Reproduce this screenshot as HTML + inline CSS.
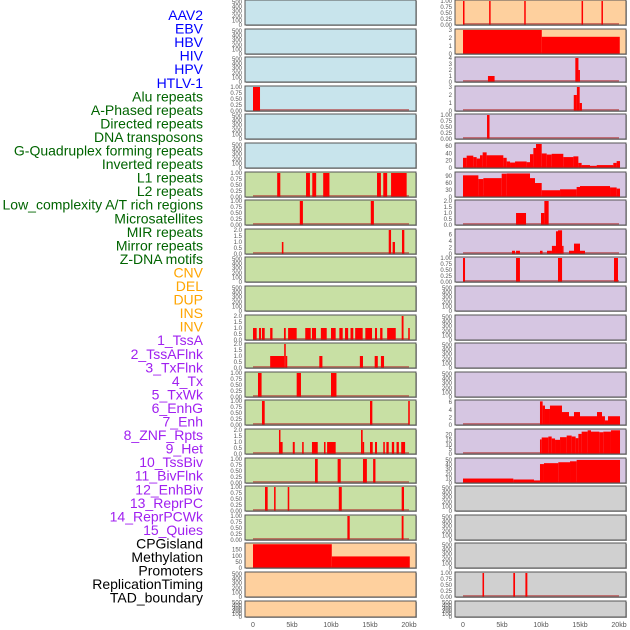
<!DOCTYPE html>
<html><head><meta charset="utf-8">
<style>
html,body{margin:0;padding:0;background:#fff;}
body{width:630px;height:630px;overflow:hidden;position:relative;font-family:"Liberation Sans",sans-serif;}
svg{position:absolute;left:0;top:0;}
</style></head>
<body>
<svg id="chart" width="630" height="630" viewBox="0 0 630 630"></svg>
<script>
// ---- labels ----
const trackLabels = ["AAV2","EBV","HBV","HIV","HPV","HTLV-1","Alu repeats","A-Phased repeats","Directed repeats","DNA transposons","G-Quadruplex forming repeats","Inverted repeats","L1 repeats","L2 repeats","Low_complexity A/T rich regions","Microsatellites","MIR repeats","Mirror repeats","Z-DNA motifs","CNV","DEL","DUP","INS","INV","1_TssA","2_TssAFlnk","3_TxFlnk","4_Tx","5_TxWk","6_EnhG","7_Enh","8_ZNF_Rpts","9_Het","10_TssBiv","11_BivFlnk","12_EnhBiv","13_ReprPC","14_ReprPCWk","15_Quies","CPGisland","Methylation","Promoters","ReplicationTiming","TAD_boundary"];
const labelColors = ["#0000ff","#0000ff","#0000ff","#0000ff","#0000ff","#0000ff","#006400","#006400","#006400","#006400","#006400","#006400","#006400","#006400","#006400","#006400","#006400","#006400","#006400","#ffa500","#ffa500","#ffa500","#ffa500","#ffa500","#a020f0","#a020f0","#a020f0","#a020f0","#a020f0","#a020f0","#a020f0","#a020f0","#a020f0","#a020f0","#a020f0","#a020f0","#a020f0","#a020f0","#a020f0","#000","#000","#000","#000","#000"];
const xTickLabels = ["0","5kb","10kb","15kb","20kb"];
const xTickValues = [0,5,10,15,20];

// ---- data: segments [startKb, endKb, value] ----
const L_ALU = [[0,0.9,1]];
const L_L1 = [[3.1,3.5,1],[6.8,7.3,1],[7.6,8.1,1],[9.0,9.8,1],[15.9,16.4,1],[16.7,17.2,1],[17.7,19.7,1]];
const L_L2 = [[6.0,6.4,1],[15.1,15.5,1]];
const L_LOWC = [[3.7,3.9,1],[17.4,17.7,2],[17.9,18.2,1],[19.1,19.4,2]];
const L_INS = [[0,0.47,1],[0.77,1.03,1],[1.15,1.5,1],[2.2,2.5,1],[3.97,4.2,1],[4.5,5.6,1],[6.7,7.4,1],[7.56,8.08,1],[8.7,9.45,1],[10.0,10.6,1],[11.07,11.5,1],[11.8,12.2,1],[12.5,12.86,1],[13.1,14.06,1],[14.4,15.26,1],[15.64,15.9,1],[16.3,16.6,1],[17.2,18.3,1],[19.06,19.3,2],[19.9,20.1,1]];
const L_TSSA = [[2.2,4.0,1],[4.0,4.2,2],[4.2,4.3,1],[8.5,8.9,1],[13.7,14.1,1],[15.6,16.0,1],[16.4,16.8,1]];
const L_TSSAFLNK = [[0.64,1.1,1],[5.6,6.15,1],[10.0,10.7,1]];
const L_TXFLNK = [[1.15,1.5,1],[15.0,15.3,1],[19.9,20.1,1]];
const L_TX = [[3.33,3.5,2],[3.5,3.8,1],[5.1,5.35,1],[6.3,6.5,1],[7.56,8.3,1],[9.1,9.3,1],[9.5,10.6,1],[13.85,14.06,2],[14.06,14.2,1],[15.0,15.35,1],[15.64,15.9,1],[16.7,16.9,1],[17.1,17.4,1],[17.8,18.1,1],[18.4,18.7,1],[19.0,19.5,1]];
const L_TXWK = [[7.95,8.3,1],[10.85,11.25,1],[14.1,14.6,1],[15.4,15.7,1]];
const L_ENHG = [[1.54,1.88,1],[2.7,2.9,1],[4.45,4.65,1],[11.0,11.38,1],[19.06,19.36,1]];
const L_ENH = [[12.1,12.4,1],[19.06,19.3,1]];
const L_CPG = [[0,10.1,195],[10.1,20.1,95]];
const R_AAV2 = [[0,0.18,1],[3.35,3.5,1],[7.85,8.0,1],[15.2,15.35,1],[17.75,17.9,1]];
const R_EBV = [[0,10.1,3],[10.1,20.1,2.15]];
const R_HBV = [[3.2,4.05,1],[14.4,14.8,4],[14.8,14.9,2]];
const R_HIV = [[14.2,14.6,2],[14.6,14.96,3],[14.96,15.25,1]];
const R_HPV = [[3.08,3.4,1]];
const R_GQUAD = [[0,0.47,28],[0.47,1.32,34],[1.32,1.75,30],[1.75,2.18,26],[2.18,2.52,35],[2.52,3.03,43],[3.03,5.17,35],[5.17,5.6,28],[5.6,6.03,18],[6.03,6.67,15],[6.67,8.16,18],[8.16,8.59,16],[8.59,9.02,38],[9.02,9.36,55],[9.36,10.09,66],[10.09,10.73,40],[10.73,11.37,37],[11.37,12.86,39],[12.86,14.15,30],[14.15,14.79,32],[14.79,15.21,14],[15.21,16.28,8],[16.28,17.14,6],[17.14,19.27,8],[19.27,19.7,14],[19.7,20.13,19]];
const R_INVREP = [[0,1.97,93],[1.97,2.61,77],[2.61,4.96,81],[4.96,5.6,100],[5.6,8.59,101],[8.59,9.23,81],[9.23,10.09,60],[10.09,12.44,29],[12.44,14.57,33],[14.57,15.0,43],[15.0,18.85,47],[18.85,19.7,41],[19.7,20.13,36]];
const R_L1 = [[6.8,8.08,1],[10.0,10.43,1],[10.43,10.98,2]];
const R_L2 = [[6.28,6.67,1],[6.8,7.3,1],[9.87,10.2,1],[10.77,11.4,1],[11.4,11.92,2.5],[11.92,12.18,7],[12.18,12.7,7.3],[12.7,12.86,2.5],[13.59,14.23,1],[14.23,15.0,3.2],[15.0,15.64,1]];
const R_LOWC = [[0,0.26,1],[6.8,7.3,1],[12.18,12.7,1],[19.36,19.87,1]];
const R_TXWK = [[9.87,10.21,6.2],[10.21,10.51,5.1],[10.51,11.15,4.2],[11.15,12.69,5.1],[12.69,13.59,3.4],[13.59,14.23,2.3],[14.23,15.0,3.4],[15.0,17.18,2.3],[17.18,17.82,3.4],[17.82,18.2,2.3],[18.2,18.59,1.2],[18.59,20.13,2.3]];
const R_ENHG = [[9.87,10.09,15],[10.09,10.94,17],[10.94,11.37,18],[11.37,11.8,16],[11.8,12.44,14.6],[12.44,13.29,17.3],[13.29,13.93,19],[13.93,14.44,18],[14.44,14.79,16.3],[14.79,15.21,20.7],[15.21,15.98,23],[15.98,16.41,24.4],[16.41,17.48,23],[17.48,17.99,22.4],[17.99,18.97,23],[18.97,20.13,24.4]];
const R_ENH = [[0,6.45,9.7],[6.45,9.1,7.6],[9.1,9.87,5.6],[9.87,10.38,41],[10.38,12.22,43],[12.22,13.72,45],[13.72,14.57,47],[14.57,20.13,50]];
const R_PROM = [[2.5,2.7,1],[6.45,6.67,1],[8.0,8.25,1]];

// ---- panel layout (col, row, bg, ymax, ticks, data) ----
const BLUE="#c8e4ec", GREEN="#c8e0a4", ORANGE="#fed09e", PURPLE="#d6c6e2", GRAY="#d0d0d0";
const T500=["0","100","200","300","400","500"], T1=["0.00","0.25","0.50","0.75","1.00"], T2=["0.0","0.5","1.0","1.5","2.0"];
const panels = [
 // left
 ["L",0,BLUE,520,T500,null,"aav2-left"],["L",1,BLUE,520,T500,null,"ebv-left"],["L",2,BLUE,520,T500,null,"hbv-left"],
 ["L",3,BLUE,1,T1,L_ALU,"alu-repeats-panel"],["L",4,BLUE,520,T500,null,"empty-panel-l4"],["L",5,BLUE,520,T500,null,"empty-panel-l5"],
 ["L",6,GREEN,1,T1,L_L1,"l1-repeats-panel"],["L",7,GREEN,1,T1,L_L2,"l2-repeats-panel"],["L",8,GREEN,2,T2,L_LOWC,"low-complexity-panel"],
 ["L",9,GREEN,520,T500,null,"empty-panel-l9"],["L",10,GREEN,520,T500,null,"empty-panel-l10"],["L",11,GREEN,2,T2,L_INS,"ins-panel"],
 ["L",12,GREEN,2,T2,L_TSSA,"tssa-panel"],["L",13,GREEN,1,T1,L_TSSAFLNK,"tssaflnk-panel"],["L",14,GREEN,1,T1,L_TXFLNK,"txflnk-panel"],
 ["L",15,GREEN,2,T2,L_TX,"tx-panel"],["L",16,GREEN,1,T1,L_TXWK,"txwk-panel"],["L",17,GREEN,1,T1,L_ENHG,"enhg-panel"],
 ["L",18,GREEN,1,T1,L_ENH,"enh-panel"],["L",19,ORANGE,197,["0","50","100","150"],L_CPG,"cpgisland-panel"],
 ["L",20,ORANGE,520,T500,null,"promoters-left-panel"],["L",21,ORANGE,520,T500,null,"tad-left-panel"],
 // right
 ["R",0,ORANGE,1,T1,R_AAV2,"aav2-right-panel"],["R",1,ORANGE,3,["0","1","2","3"],R_EBV,"ebv-right-panel"],
 ["R",2,PURPLE,4,["0","1","2","3","4"],R_HBV,"hbv-right-panel"],["R",3,PURPLE,3,["0","1","2","3"],R_HIV,"hiv-right-panel"],
 ["R",4,PURPLE,1,T1,R_HPV,"hpv-right-panel"],["R",5,PURPLE,66,["0","20","40","60"],R_GQUAD,"gquad-right-panel"],
 ["R",6,PURPLE,103,["0","30","60","90"],R_INVREP,"inverted-right-panel"],["R",7,PURPLE,2,T2,R_L1,"l1-right-panel"],
 ["R",8,PURPLE,7.4,["0","2","4","6"],R_L2,"l2-right-panel"],["R",9,PURPLE,1,T1,R_LOWC,"lowc-right-panel"],
 ["R",10,PURPLE,520,T500,null,"empty-r10"],["R",11,PURPLE,520,T500,null,"empty-r11"],["R",12,PURPLE,520,T500,null,"empty-r12"],
 ["R",13,PURPLE,520,T500,null,"empty-r13"],["R",14,PURPLE,6.3,["0","2","4","6"],R_TXWK,"txwk-right-panel"],
 ["R",15,PURPLE,24.7,["0","5","10","15","20"],R_ENHG,"enhg-right-panel"],
 ["R",16,PURPLE,52,["0","10","20","30","40","50"],R_ENH,"enh-right-panel"],
 ["R",17,GRAY,520,T500,null,"empty-r17"],["R",18,GRAY,520,T500,null,"empty-r18"],["R",19,GRAY,520,T500,null,"empty-r19"],
 ["R",20,GRAY,1,T1,R_PROM,"promoters-right-panel"],["R",21,GRAY,520,T500,null,"empty-r21"]
];

const NS="http://www.w3.org/2000/svg";
const svg=document.getElementById("chart");
function mk(tag,attrs,parent){const e=document.createElementNS(NS,tag);for(const k in attrs)e.setAttribute(k,attrs[k]);(parent||svg).appendChild(e);return e;}
const colGeom={L:{left:245,right:416,x0:253},R:{left:455,right:626,x0:463}};
const KBPX=7.8;
function xScale(col,kb){return colGeom[col].x0+kb*KBPX;}
function rowTop(r){return Math.round(r*28.6);}
function rowH(r){return r===21?16:25;}

// labels
trackLabels.forEach((t,i)=>{
  const el=mk("text",{x:203,y:15+i*13.55+5,"text-anchor":"end","font-size":"14",fill:labelColors[i],"font-family":"Liberation Sans, sans-serif"});
  el.textContent=t;
  
  
});

panels.forEach(p=>{
  const [col,row,bg,ymax,ticks,data,name]=p;
  const g=colGeom[col], top=rowTop(row), h=rowH(row), bot=top+h;
  const grp=mk("g",{});
  
  
  mk("rect",{x:g.left+1,y:top+1,width:g.right-g.left,height:h,fill:"#aaa"},grp);
  mk("rect",{x:g.left,y:top,width:g.right-g.left,height:h,fill:bg},grp);
  const yS=v=>bot-v/ymax*(h-1);
  if(data){
    mk("line",{x1:xScale(col,0),x2:xScale(col,20),y1:bot-1,y2:bot-1,stroke:"#b03030","stroke-opacity":"0.6","stroke-width":"2"},grp);
    data.forEach(s=>{
      const x1=xScale(col,s[0]),x2=xScale(col,s[1]);
      const b=mk("rect",{x:x1,y:yS(s[2]),width:Math.max(1.5,x2-x1),height:bot-yS(s[2]),fill:"#ff0000"},grp);
      
      
    });
  }
  mk("rect",{x:g.left,y:top,width:g.right-g.left,height:h,fill:"none",stroke:"#555","stroke-width":"1"},grp);
  // y ticks
  ticks.forEach(t=>{
    const v=parseFloat(t);
    const tx=mk("text",{x:g.left-3,y:Math.min(yS(v),bot)+2,"text-anchor":"end","font-size":"6",fill:"#555"},grp);
    tx.textContent=t;
    
    
  });
});

// x axes
["L","R"].forEach(col=>{
  xTickValues.forEach((v,i)=>{
    const tx=mk("text",{x:xScale(col,v),y:627,"text-anchor":"middle","font-size":"7",fill:"#555"});
    tx.textContent=xTickLabels[i];
    
    
  });
});
</script>
</body></html>
